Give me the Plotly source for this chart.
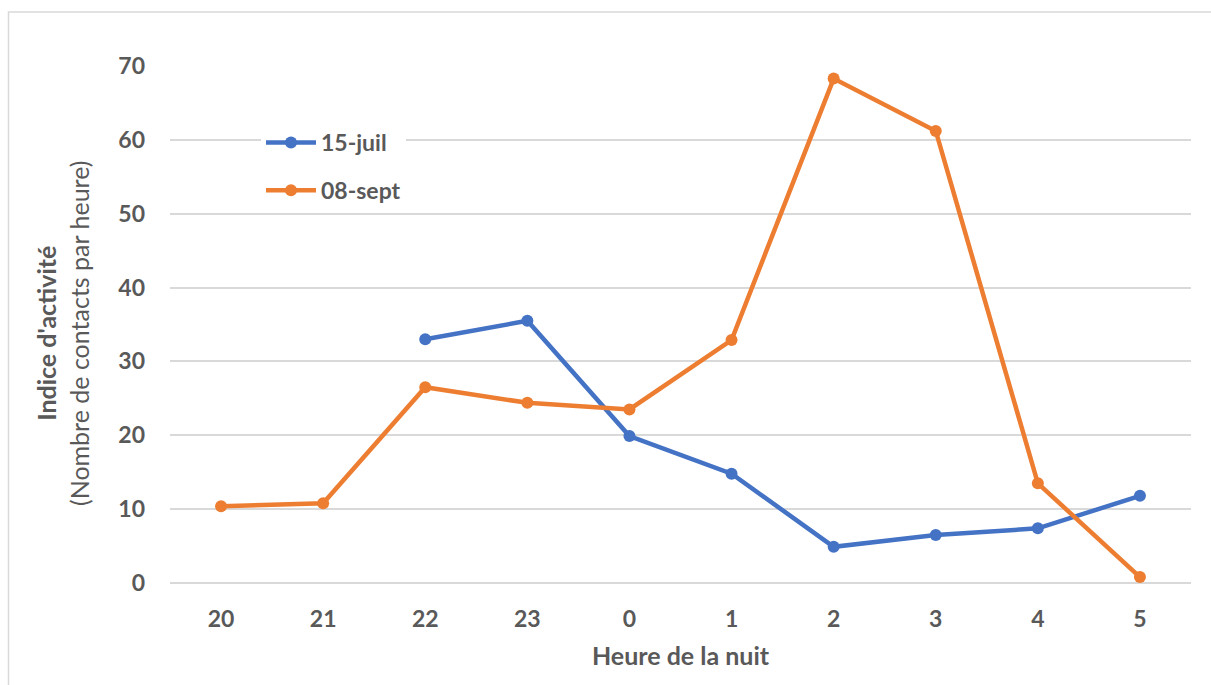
import plotly.graph_objects as go

# Hour of the night (categorical axis, from evening to early morning)
hours = ["20", "21", "22", "23", "0", "1", "2", "3", "4", "5"]

# Activity index (contacts per hour) for each survey night
juil_15 = [None, None, 33.0, 35.5, 19.9, 14.8, 4.9, 6.5, 7.4, 11.8]
sept_08 = [10.4, 10.8, 26.5, 24.4, 23.5, 32.9, 68.3, 61.2, 13.5, 0.8]

series_names = ["15-juil", "08-sept"]

BLUE = "#4472C4"
ORANGE = "#ED7D31"
GREY_TXT = "#595959"
GRID = "#D9D9D9"
FONT = "Lato, 'Open Sans', sans-serif"

# Plot-area geometry in pixels (used to place the frame, legend and y title)
L, R, T, B = 170, 20, 66, 102
PW, PH = 1211 - L - R, 685 - T - B


def px_x(p):
    return (p - L) / PW


def px_y(p):
    return 1 - (p - T) / PH


fig = go.Figure()
for name, vals, col, grp in [
    (series_names[0], juil_15, BLUE, "a"),
    (series_names[1], sept_08, ORANGE, "b"),
]:
    fig.add_trace(go.Scatter(
        x=hours, y=vals, name=name, mode="lines+markers",
        line=dict(color=col, width=4.5),
        marker=dict(color=col, size=12),
        cliponaxis=False, connectgaps=False, legendgroup=grp,
    ))

# Outer chart frame (left and top edges visible in the window)
fig.add_shape(type="rect", xref="paper", yref="paper",
              x0=px_x(8.5), x1=1.3, y0=-0.5, y1=px_y(12),
              line=dict(color=GRID, width=1.5), fillcolor="rgba(0,0,0,0)",
              layer="below")

# Two-line y-axis title
fig.add_annotation(
    xref="paper", yref="paper", x=px_x(62), y=px_y(334),
    xanchor="center", yanchor="middle", textangle=-90, showarrow=False,
    text="<b>Indice d'activité</b><br>(Nombre de contacts par heure)",
    font=dict(family=FONT, size=25, color=GREY_TXT),
)

fig.update_layout(
    width=1211, height=685,
    margin=dict(l=L, r=R, t=T, b=B),
    paper_bgcolor="white", plot_bgcolor="white",
    font=dict(family=FONT, size=23, color=GREY_TXT),
    showlegend=True,
    legend=dict(
        x=px_x(261), y=px_y(121),
        xanchor="left", yanchor="top",
        bgcolor="white", borderwidth=0,
        font=dict(family=FONT, size=23, color=GREY_TXT, weight="bold"),
        traceorder="grouped", tracegroupgap=15, itemwidth=50,
    ),
    xaxis=dict(
        type="category", range=[-0.5, 9.5],
        showgrid=False, showline=False, zeroline=False,
        ticks="", ticklabelstandoff=20,
        tickfont=dict(family=FONT, size=23, color=GREY_TXT, weight="bold"),
        title=dict(text="<b>Heure de la nuit</b>", standoff=16,
                   font=dict(family=FONT, size=25, color=GREY_TXT)),
    ),
    yaxis=dict(
        range=[0, 70], dtick=10,
        showgrid=True, gridcolor=GRID, gridwidth=1.5,
        zeroline=True, zerolinecolor=GRID, zerolinewidth=1.5,
        showline=False, ticks="", ticklabelstandoff=24,
        tickfont=dict(family=FONT, size=23, color=GREY_TXT, weight="bold"),
    ),
)

fig.write_html("out.html")
